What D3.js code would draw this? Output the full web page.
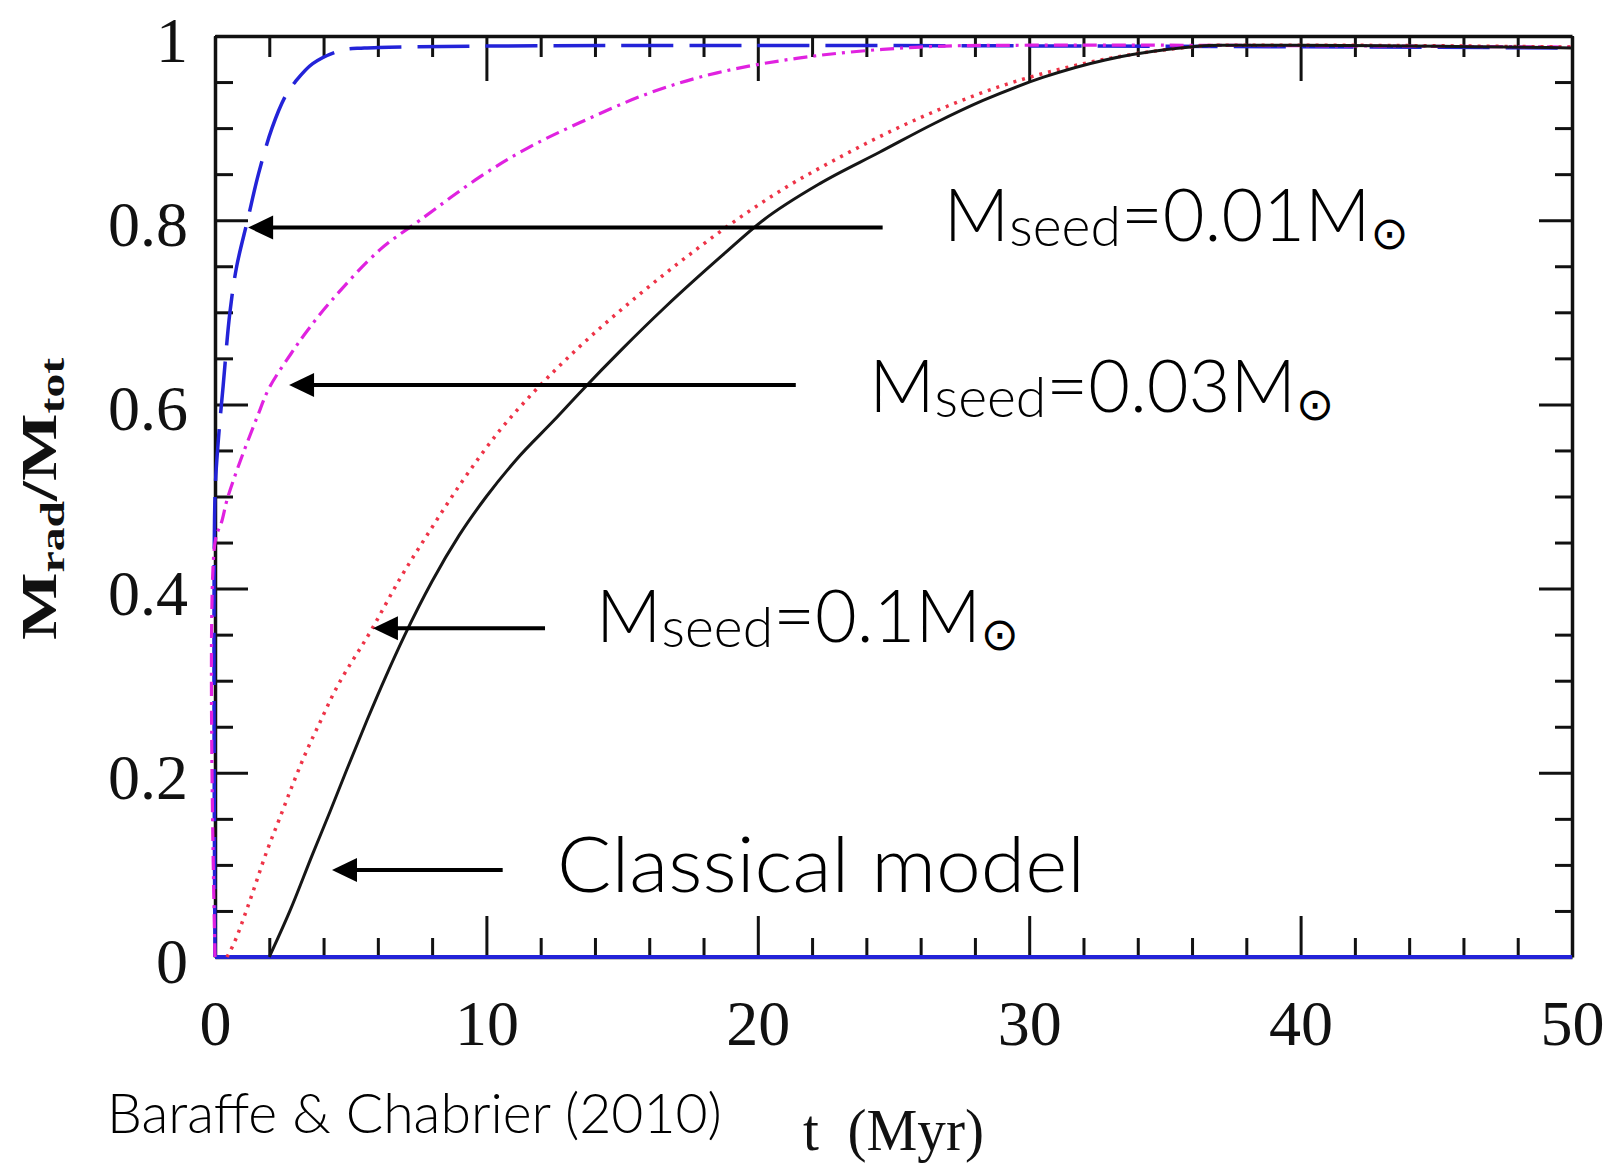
<!DOCTYPE html>
<html><head><meta charset="utf-8">
<script src="https://cdn.jsdelivr.net/npm/d3@7"></script>
<style>body{margin:0;background:#fff}</style>
</head><body>
<svg id="c" width="1607" height="1164"></svg>
<script>
// ---------- data ----------
const xTicksMajor = [0, 10, 20, 30, 40, 50];
const xTickLabels = ["0", "10", "20", "30", "40", "50"];
const xTicksMinor = [2, 4, 6, 8, 12, 14, 16, 18, 22, 24, 26, 28, 32, 34, 36, 38, 42, 44, 46, 48];
const yTicksMajor = [0, 0.2, 0.4, 0.6, 0.8, 1];
const yTickLabels = ["0", "0.2", "0.4", "0.6", "0.8", "1"];
const yTicksMinor = [0.05, 0.1, 0.15, 0.25, 0.3, 0.35, 0.45, 0.5, 0.55, 0.65, 0.7, 0.75, 0.85, 0.9, 0.95];

// t (Myr), Mrad/Mtot
const seed001 = [[0,0],[0,0.5],[0.12,0.56],[0.3,0.62],[0.55,0.7],[0.8,0.75],[1.2,0.8],[1.6,0.85],[2.1,0.9],[2.6,0.935],[2.95,0.95],[3.6,0.97],[4.6,0.984],[5.5,0.987],[50,0.987]];
const seed003 = [[0,0],[0,0.45],[0.26,0.474],[0.44,0.496],[0.85,0.532],[1.55,0.586],[2.0,0.618],[2.8,0.655],[3.4,0.68],[4.3,0.713],[6.08,0.768],[7.55,0.80],[9.76,0.847],[11.5,0.878],[13.45,0.906],[16,0.938],[18.5,0.96],[22,0.978],[26,0.988],[30,0.99],[50,0.988]];
const seed01 = [[0.44,0],[0.67,0.013],[1.2,0.054],[1.9,0.114],[2.4,0.152],[2.9,0.19],[3.38,0.224],[3.87,0.255],[4.3,0.282],[5.8,0.357],[6.8,0.41],[7.9,0.462],[9.1,0.516],[10.5,0.572],[11.7,0.612],[13.3,0.659],[15.5,0.716],[17.5,0.763],[19.2,0.8],[21,0.835],[23,0.868],[25,0.898],[27,0.924],[29,0.946],[31,0.963],[33,0.976],[35,0.985],[37,0.99],[40,0.99],[50,0.988]];
const classical = [[2.0,0],[2.76,0.05],[3.6,0.112],[4.24,0.158],[4.85,0.203],[5.6,0.257],[6.3,0.305],[7.0,0.35],[8.0,0.408],[9.0,0.458],[10.0,0.5],[11.1,0.54],[12.5,0.583],[13.45,0.613],[15,0.66],[16.6,0.706],[18.7,0.762],[20.2,0.8],[22.3,0.84],[24.5,0.874],[26.5,0.905],[28.3,0.93],[30.5,0.955],[32.8,0.974],[35,0.985],[37,0.99],[40,0.99],[50,0.987]];
const zeroLine = [[0,0],[50,0]];

const seedLabels = ["0.01", "0.03", "0.1"];
const classicalLabel = "Classical model";

// ---------- layout ----------
const svg = d3.select("#c");
const x = d3.scaleLinear().domain([0, 50]).range([215, 1572]);
const y = d3.scaleLinear().domain([0, 1]).range([957, 36]);
const TICKFONT = "'Liberation Serif', 'Times New Roman', serif";
const SANS = "Lato, Roboto, 'Liberation Sans', Arial, sans-serif";

function styleAxis(g) {
  g.selectAll("path.domain").attr("stroke", "#111").attr("stroke-width", 3.5);
  g.selectAll(".tick line").attr("stroke", "#111").attr("stroke-width", 3);
}
function styleLabels(g) {
  g.selectAll("text").attr("font-family", TICKFONT).attr("font-size", 64).attr("fill", "#111");
}

// bottom
const gB = svg.append("g").attr("transform", `translate(0,${y(0)})`)
  .call(d3.axisBottom(x).tickValues(xTicksMajor).tickSize(-41).tickSizeOuter(0).tickPadding(43)
        .tickFormat((d, i) => xTickLabels[i]));
gB.append("g").call(d3.axisBottom(x).tickValues(xTicksMinor).tickSize(-19).tickSizeOuter(0).tickFormat(""))
  .select("path.domain").remove();
styleAxis(gB); styleLabels(gB);

// top
const gT = svg.append("g").attr("transform", `translate(0,${y(1)})`)
  .call(d3.axisTop(x).tickValues(xTicksMajor).tickSize(-45).tickSizeOuter(0).tickFormat(""));
gT.append("g").call(d3.axisTop(x).tickValues(xTicksMinor).tickSize(-21).tickSizeOuter(0).tickFormat(""))
  .select("path.domain").remove();
styleAxis(gT);

// left
const gL = svg.append("g").attr("transform", `translate(${x(0)},0)`)
  .call(d3.axisLeft(y).tickValues(yTicksMajor).tickSize(-33).tickSizeOuter(0).tickPadding(27)
        .tickFormat((d, i) => yTickLabels[i]));
gL.append("g").call(d3.axisLeft(y).tickValues(yTicksMinor).tickSize(-18).tickSizeOuter(0).tickFormat(""))
  .select("path.domain").remove();
styleAxis(gL); styleLabels(gL);
gL.selectAll(".tick text").attr("dy", null).attr("y", 4).attr("dominant-baseline", "central");

// right
const gR = svg.append("g").attr("transform", `translate(${x(50)},0)`)
  .call(d3.axisRight(y).tickValues(yTicksMajor).tickSize(-33).tickSizeOuter(0).tickFormat(""));
gR.append("g").call(d3.axisRight(y).tickValues(yTicksMinor).tickSize(-17).tickSizeOuter(0).tickFormat(""))
  .select("path.domain").remove();
styleAxis(gR);

// ---------- curves ----------
const lineV = d3.line().x(d => x(d[0])).y(d => y(d[1])).curve(d3.curveCatmullRom.alpha(0.5));
const lineM = d3.line().x(d => x(d[0])).y(d => y(d[1])).curve(d3.curveMonotoneX);
const curves = svg.append("g").attr("fill", "none");
curves.append("path").datum(zeroLine).attr("d", lineM).attr("stroke", "#2323d8").attr("stroke-width", 4);
curves.append("path").datum(seed001).attr("d", lineV).attr("stroke", "#2323d8").attr("stroke-width", 3.5)
  .attr("stroke-dasharray", "52,16");
curves.append("path").datum(seed003).attr("d", lineV).attr("stroke", "#e022e0").attr("stroke-width", 3.2)
  .attr("stroke-dasharray", "14,6,3,6");
curves.append("path").datum(seed01).attr("d", lineM).attr("stroke", "#ee3347").attr("stroke-width", 3.5)
  .attr("stroke-dasharray", "3,6");
curves.append("path").datum(classical).attr("d", lineM).attr("stroke", "#161616").attr("stroke-width", 3);

// ---------- annotations ----------
const ann = svg.append("g");
function arrow(tipT, tipV, tailT) {
  const tx = x(tipT), ty = y(tipV), ex = x(tailT);
  ann.append("line").attr("x1", tx + 20).attr("y1", ty).attr("x2", ex).attr("y2", ty)
    .attr("stroke", "#000").attr("stroke-width", 4);
  ann.append("path").attr("d", `M${tx},${ty}L${tx + 25},${ty - 12}L${tx + 25},${ty + 12}Z`).attr("fill", "#000");
}
arrow(1.22, 0.792, 24.6);
arrow(2.73, 0.621, 21.4);
arrow(5.82, 0.357, 12.16);
arrow(4.31, 0.0945, 10.6);

function fitX(sel, x0, w) {
  const b = sel.node().getBBox();
  const sx = w / b.width;
  sel.attr("transform", `translate(${x0},0) scale(${sx},1) translate(${-b.x},0)`);
}
function seedText(label, t0, v0, tw) {
  const base = y(v0);
  const txt = ann.append("text").attr("x", 0).attr("y", base)
    .attr("font-family", SANS).attr("font-weight", 300).attr("font-size", 73).attr("fill", "#000");
  txt.append("tspan").text("M");
  txt.append("tspan").attr("font-size", 56).attr("dy", 5).text("seed");
  txt.append("tspan").attr("dy", -5).text("=" + label + "M");
  txt.append("tspan").attr("font-family", "'DejaVu Sans', sans-serif").attr("font-weight", 400)
    .attr("font-size", 46).attr("dy", 8).text("\u2299");
  fitX(txt, x(t0) - 4, x(t0 + tw) - x(t0) + 6);
}
seedText(seedLabels[0], 27.0, 0.777, 16.91);
seedText(seedLabels[1], 24.25, 0.592, 16.91);
seedText(seedLabels[2], 14.19, 0.342, 15.36);

const cl = ann.append("text").attr("x", 0).attr("y", y(0.0709))
  .attr("font-family", SANS).attr("font-weight", 300).attr("font-size", 76).attr("fill", "#000")
  .text(classicalLabel);
fitX(cl, x(12.79) - 5, 528);

// citation
const cit = svg.append("text").attr("x", 0).attr("y", 1133)
  .attr("font-family", SANS).attr("font-weight", 300).attr("font-size", 56).attr("fill", "#000")
  .text("Baraffe & Chabrier (2010)");
fitX(cit, 107, 615);

// x axis title
const xt = svg.append("text").attr("x", 0).attr("y", 1150)
  .attr("font-family", TICKFONT).attr("font-size", 60).attr("fill", "#111")
  .attr("xml:space", "preserve").text("t  (Myr)");
fitX(xt, 803, 181);

// y axis title (bold serif, rotated)
const yt = svg.append("text").attr("font-family", TICKFONT).attr("font-weight", "bold")
  .attr("font-size", 60).attr("fill", "#111");
yt.append("tspan").text("M");
yt.append("tspan").attr("font-size", 40).attr("dy", 10).text("rad");
yt.append("tspan").attr("dy", -10).text("/M");
yt.append("tspan").attr("font-size", 40).attr("dy", 10).text("tot");
{
  const b = yt.node().getBBox();
  const boxW = 62, boxH = 283, cx = 41, cy = 498.5;
  yt.attr("transform",
    `translate(${cx},${cy}) rotate(-90) scale(${boxH / b.width},${boxW / b.height}) translate(${-(b.x + b.width / 2)},${-(b.y + b.height / 2)})`);
}
</script>
</body></html>
